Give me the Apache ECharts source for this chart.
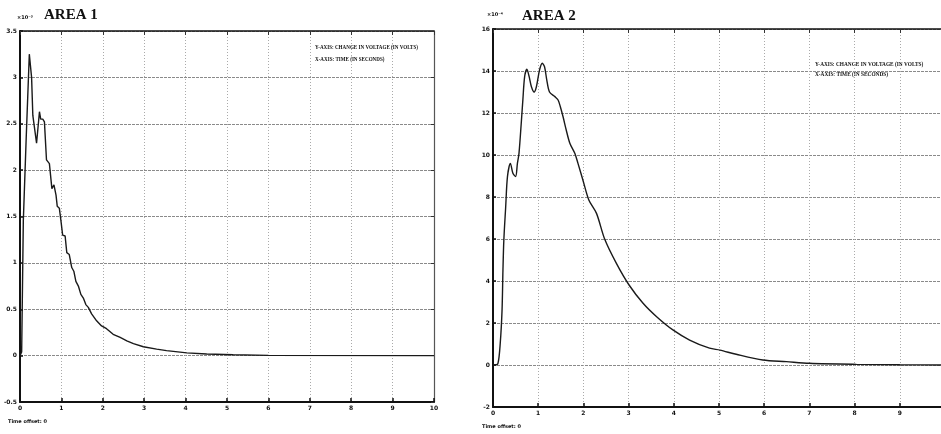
<!DOCTYPE html>
<html>
<head>
<meta charset="utf-8">
<script src="https://cdn.jsdelivr.net/npm/echarts@6/dist/echarts.min.js"></script>
<style>
html,body{margin:0;padding:0;background:#fff;}
#chart{width:941px;height:434px;}
</style>
</head>
<body>
<div id="chart"></div>
<script>
// ---- Data ----
const xTicks = [0,1,2,3,4,5,6,7,8,9,10];

// AREA 1 : change in voltage (x10^-3 V) vs time (s)
const time1 = [0,0.04,0.08,0.15,0.225,0.28,0.31,0.35,0.40,0.47,0.50,0.55,0.59,0.64,0.71,0.77,0.82,0.87,0.90,0.95,0.99,1.03,1.09,1.13,1.19,1.25,1.30,1.35,1.41,1.47,1.53,1.59,1.65,1.73,1.85,1.97,2.09,2.25,2.42,2.58,2.74,2.98,3.30,3.54,4.03,4.51,5.15,6.0,10];
const volt1 = [0,0.04,1.45,2.35,3.25,3.0,2.59,2.57,2.29,2.63,2.55,2.55,2.52,2.11,2.07,1.80,1.84,1.73,1.61,1.59,1.45,1.30,1.29,1.11,1.09,0.95,0.91,0.80,0.75,0.66,0.62,0.55,0.52,0.45,0.375,0.32,0.29,0.23,0.196,0.16,0.13,0.096,0.07,0.054,0.03,0.018,0.01,0.003,0];

// AREA 2 : change in voltage (x10^-4 V) vs time (s)
const time2 = [0,0.04,0.11,0.16,0.20,0.22,0.24,0.28,0.32,0.385,0.44,0.50,0.54,0.575,0.63,0.66,0.70,0.75,0.80,0.85,0.91,0.96,1.03,1.09,1.14,1.19,1.25,1.37,1.44,1.49,1.55,1.62,1.70,1.81,1.88,1.99,2.12,2.29,2.47,2.73,3.01,3.32,3.62,3.98,4.35,4.79,5.02,5.38,5.97,6.49,7.0,8.04,9.0,10];
const volt2 = [0,0,0.08,1.03,2.6,4.5,5.95,7.5,8.97,9.6,9.13,8.97,9.6,10.08,11.67,12.6,13.73,14.08,13.73,13.25,13.0,13.25,14.05,14.37,14.2,13.57,13.0,12.78,12.62,12.3,11.82,11.19,10.56,10.08,9.6,8.8,7.86,7.22,6.0,4.84,3.81,2.94,2.3,1.67,1.19,0.8,0.71,0.51,0.24,0.16,0.08,0.03,0.01,0];

const titles = ['AREA 1','AREA 2'];
const multipliers = ['×10⁻³','×10⁻⁴'];
const noteLines = ['Y-AXIS: CHANGE IN VOLTAGE (IN VOLTS)','X-AXIS: TIME (IN SECONDS)'];
const offsetText = 'Time offset: 0';

// ---- Chart ----
const chart = echarts.init(document.getElementById('chart'), null, {renderer:'canvas'});

const lbl = {fontSize:6, fontWeight:'bold', color:'#111', fontFamily:'DejaVu Sans'};

function mainX(gi){
  return {gridIndex:gi, type:'value', min:0, max:10, interval:1, position:'bottom',
    axisLine:{onZero:false, lineStyle:{color:'#111', width:2}},
    axisTick:{inside:true, length:4, lineStyle:{color:'#111', width:1.5}},
    axisLabel:Object.assign({margin:3, formatter:v=>String(v)}, lbl),
    splitLine:{show:true, lineStyle:{color:'#aaa', type:[1,2], width:1}}};
}
function boxX(gi){
  return {gridIndex:gi, type:'value', min:0, max:10, interval:1, position:'top',
    axisLine:{onZero:false, lineStyle:{color:'#111', width:1.5}},
    axisTick:{inside:true, length:4, lineStyle:{color:'#333'}},
    axisLabel:{show:false}, splitLine:{show:false}};
}
function mainY(gi, mn, mx, iv){
  return {gridIndex:gi, type:'value', min:mn, max:mx, interval:iv, position:'left',
    axisLine:{onZero:false, lineStyle:{color:'#111', width:2}},
    axisTick:{inside:true, length:3, lineStyle:{color:'#111', width:1.5}},
    axisLabel:Object.assign({margin:3}, lbl),
    splitLine:{show:true, lineStyle:{color:'#8a8a8a', type:[3,1], width:1.2}}};
}
function boxY(gi, mn, mx, iv){
  return {gridIndex:gi, type:'value', min:mn, max:mx, interval:iv, position:'right',
    axisLine:{onZero:false, lineStyle:{color:'#555', width:1.2}},
    axisTick:{inside:true, length:3, lineStyle:{color:'#333'}},
    axisLabel:{show:false}, splitLine:{show:false}};
}

const titleStyle = {fontFamily:'Liberation Serif', fontWeight:'bold', fontSize:15, color:'#111'};
const noteStyle = {fontFamily:'Liberation Serif', fontWeight:'bold', fontSize:6.5, fill:'#111'};
const smallStyle = {fontFamily:'DejaVu Sans', fontWeight:'bold', fontSize:5, fill:'#111'};

chart.setOption({
  animation:false,
  backgroundColor:'#fff',
  title:[
    {text:titles[0], left:39, top:3, textStyle:titleStyle},
    {text:titles[1], left:517, top:4, textStyle:titleStyle}
  ],
  grid:[
    {left:20, top:31, width:414, height:371, outerBoundsMode:'none', containLabel:false},
    {left:493, top:29, width:452, height:378, outerBoundsMode:'none', containLabel:false}
  ],
  xAxis:[mainX(0), boxX(0), mainX(1), boxX(1)],
  yAxis:[mainY(0,-0.5,3.5,0.5), boxY(0,-0.5,3.5,0.5), mainY(1,-2,16,2), boxY(1,-2,16,2)],
  series:[
    {type:'line', xAxisIndex:0, yAxisIndex:0, showSymbol:false, data:time1.map((t,i)=>[t,volt1[i]]),
     lineStyle:{color:'#1a1a1a', width:1.4}, z:5},
    {type:'line', xAxisIndex:2, yAxisIndex:2, showSymbol:false, smooth:0.3, data:time2.map((t,i)=>[t,volt2[i]]),
     lineStyle:{color:'#1a1a1a', width:1.4}, z:5}
  ],
  graphic:[
    {type:'text', left:17, top:15, style:Object.assign({text:multipliers[0]}, smallStyle)},
    {type:'text', left:487, top:12, style:Object.assign({text:multipliers[1]}, smallStyle)},
    {type:'text', x:315, y:44, scaleX:0.78, style:Object.assign({text:noteLines[0]}, noteStyle)},
    {type:'text', x:315, y:56, scaleX:0.78, style:Object.assign({text:noteLines[1]}, noteStyle)},
    {type:'text', x:815, y:61, scaleX:0.82, style:Object.assign({text:noteLines[0]}, noteStyle)},
    {type:'text', x:815, y:71, scaleX:0.82, style:Object.assign({text:noteLines[1]}, noteStyle)},
    {type:'text', left:8, top:419, style:Object.assign({text:offsetText}, smallStyle)},
    {type:'text', left:482, top:424, style:Object.assign({text:offsetText}, smallStyle)}
  ]
});
</script>
</body>
</html>
